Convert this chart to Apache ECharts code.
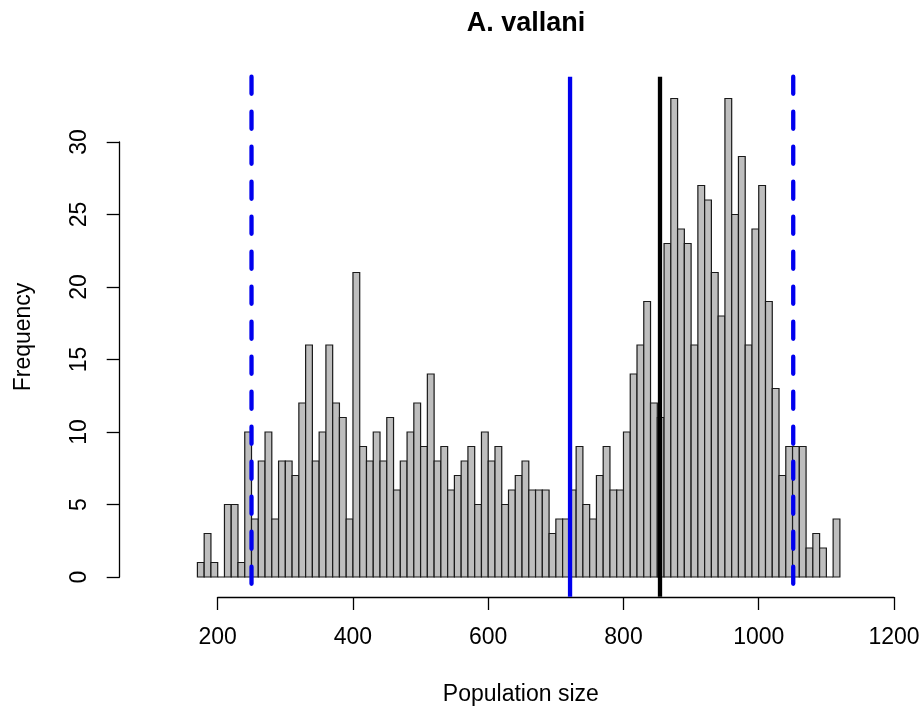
<!DOCTYPE html>
<html>
<head>
<meta charset="utf-8">
<script src="https://cdn.jsdelivr.net/npm/echarts@6/dist/echarts.min.js"></script>
<style>
    html, body { margin: 0; padding: 0; background: #fff; }
    #chart { width: 924px; height: 713px; }
</style>
</head>
<body>
<div id="chart"></div>
<script>
// histogram bins: 10 wide, first bin starts at 170
const binStart = 170
const binWidth = 10
const counts = [
    1, 3, 1, 0, 5, 5, 1, 10, 4, 8,
    10, 4, 8, 8, 7, 12, 16, 8, 10, 16,
    12, 11, 4, 21, 9, 8, 10, 8, 11, 6,
    8, 10, 12, 9, 14, 8, 9, 6, 7, 8,
    9, 5, 10, 8, 9, 5, 6, 7, 8, 6,
    6, 6, 3, 4, 4, 6, 9, 5, 4, 7,
    9, 6, 6, 10, 14, 16, 19, 12, 11, 23,
    33, 24, 23, 16, 27, 26, 21, 18, 33, 25,
    29, 16, 24, 27, 19, 13, 7, 9, 9, 9,
    2, 3, 2, 0, 4
]

// reference lines (population size)
const dashedLines = [250, 1051]
const meanLine = 721
const blackLine = 854

const xTicks = { min: 200, max: 1200, interval: 200 }
const yTicks = { min: 0, max: 30, interval: 5 }

const font = 'Liberation Sans, Arial, sans-serif'

const bins = counts.map((c, i) => [binStart + i * binWidth, binStart + (i + 1) * binWidth, c])

// vertical lines span the whole plot region like abline in R
const yLo = -1.36
const yHi = 34.5
const vline = (x, color, type) => ({
    type: 'line',
    data: [[x, yHi], [x, yLo]],
    symbol: 'none',
    clip: false,
    silent: true,
    z: 5,
    lineStyle: { color: color, width: 4.3, type: type, cap: type === 'solid' ? 'butt' : 'round' }
})

const option = {
    animation: false,
    backgroundColor: '#fff',
    title: {
        text: 'A. vallani',
        left: 521,
        top: 5,
        textAlign: 'center',
        textStyle: { fontFamily: font, fontSize: 27, fontWeight: 'bold', color: '#000' }
    },
    grid: {
        left: 217.7,
        right: 30,
        top: 142,
        bottom: 136
    },
    xAxis: {
        type: 'value',
        min: xTicks.min,
        max: xTicks.max,
        interval: xTicks.interval,
        offset: 20,
        name: 'Population size',
        nameLocation: 'middle',
        nameGap: 86,
        nameTextStyle: { fontFamily: font, fontSize: 23, color: '#000', padding: [0, 70, 0, 0] },
        axisLine: { onZero: false, lineStyle: { color: '#000', width: 1.3 } },
        axisTick: { length: 13, lineStyle: { color: '#000', width: 1.3 } },
        axisLabel: { fontFamily: font, fontSize: 23, color: '#000', margin: 29, formatter: v => String(v) },
        splitLine: { show: false }
    },
    yAxis: {
        type: 'value',
        min: yTicks.min,
        max: yTicks.max,
        interval: yTicks.interval,
        offset: 98,
        name: 'Frequency',
        nameLocation: 'middle',
        nameGap: 85,
        nameRotate: 90,
        nameTextStyle: { fontFamily: font, fontSize: 23, color: '#000', padding: [0, 0, 0, 45] },
        axisLine: { show: true, onZero: false, lineStyle: { color: '#000', width: 1.3 } },
        axisTick: { show: true, length: 13, lineStyle: { color: '#000', width: 1.3 } },
        axisLabel: { fontFamily: font, fontSize: 23, color: '#000', margin: 29, rotate: 90 },
        splitLine: { show: false }
    },
    series: [
        {
            type: 'custom',
            clip: false,
            data: bins,
            encode: { x: [0, 1], y: 2 },
            renderItem: function (params, api) {
                const p0 = api.coord([api.value(0), api.value(2)])
                const p1 = api.coord([api.value(1), 0])
                return {
                    type: 'rect',
                    shape: { x: p0[0], y: p0[1], width: p1[0] - p0[0], height: p1[1] - p0[1] },
                    style: { fill: '#bebebe', stroke: '#1a1a1a', lineWidth: 1.2 }
                }
            }
        },
        vline(dashedLines[0], '#0000ee', [17, 18]),
        vline(meanLine, '#0000ee', 'solid'),
        vline(blackLine, '#000', 'solid'),
        vline(dashedLines[1], '#0000ee', [17, 18])
    ]
}

const myChart = echarts.init(document.getElementById('chart'), null, { renderer: 'canvas' })
myChart.setOption(option)
</script>
</body>
</html>
